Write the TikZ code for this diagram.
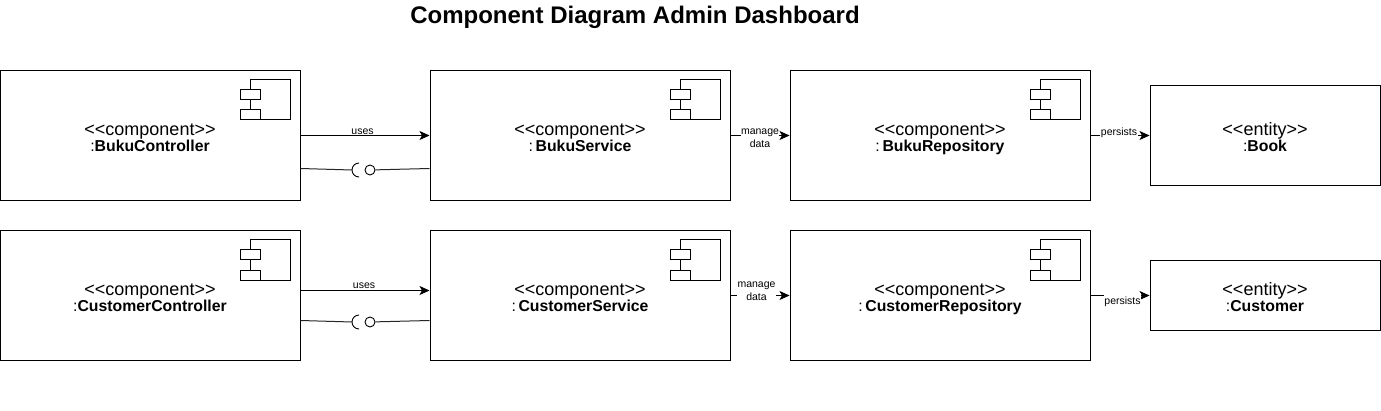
\documentclass[tikz,border=0pt]{standalone}
\usepackage{fontspec}
\setmainfont{Liberation Sans}
\usetikzlibrary{arrows.meta}
\tikzset{
  box/.style={draw, line width=1pt, minimum width=300pt, minimum height=130pt, inner sep=0pt, align=center},
  entity/.style={draw, line width=1pt, minimum width=230pt, inner sep=0pt, align=center},
  lbl/.style={fill=white, inner sep=0.5pt, align=center, font=\fontsize{10.5}{13}\selectfont},
  flow/.style={line width=0.9pt, -{Stealth[length=10pt,width=9pt,inset=2.5pt]}},
  wire/.style={line width=1pt, black!85},
  ball/.style={draw, circle, line width=0.9pt, minimum size=10pt, inner sep=0pt},
  compicon/.pic={
    \draw[line width=1pt] (-50.5,-10) rectangle (-10.5,-50);
    \draw[line width=1pt, fill=white] (-60.5,-20) rectangle (-40.5,-30);
    \draw[line width=1pt, fill=white] (-60.5,-40) rectangle (-40.5,-50);
  },
  socket/.pic={
    \draw[line width=0.9pt] (7,7) arc (90:270:7);
  }
}
\newcommand{\boxtext}[2]{{\fontsize{18}{18}\selectfont\rule{0pt}{19.5pt}<{}<#1>{}>}\\[0.5pt]{\fontsize{15.8}{18}\selectfont\vphantom{gy}#2}}
\begin{document}
\begin{tikzpicture}[x=1pt, y=1pt]
\useasboundingbox (0,0) rectangle (1381,410);
\node[font=\fontsize{24}{28}\selectfont\bfseries] (title) at (635,392.5) {Component Diagram Admin Dashboard};
% top row
\node[box] (bukuctl) at (150,274.5) {\boxtext{component}{:\textbf{BukuController}}};
\node[box] (bukusvc) at (580,274.5) {\boxtext{component}{:\,\textbf{BukuService}}};
\node[box] (bukurepo) at (940,274.5) {\boxtext{component}{:\,\textbf{BukuRepository}}};
\node[entity, minimum height=100pt] (book) at (1265,274.5) {\boxtext{entity}{:\textbf{Book}}};
% bottom row
\node[box] (custctl) at (150,114.5) {\boxtext{component}{:\textbf{CustomerController}}};
\node[box] (custsvc) at (580,114.5) {\boxtext{component}{:\,\textbf{CustomerService}}};
\node[box] (custrepo) at (940,114.5) {\boxtext{component}{:\,\textbf{CustomerRepository}}};
\node[entity, minimum height=70pt] (customer) at (1265,114.5) {\boxtext{entity}{:\textbf{Customer}}};
% icons
\pic at (bukuctl.north east) {compicon};
\pic at (bukusvc.north east) {compicon};
\pic at (bukurepo.north east) {compicon};
\pic at (custctl.north east) {compicon};
\pic at (custsvc.north east) {compicon};
\pic at (custrepo.north east) {compicon};
% arrows
\draw[flow] (bukuctl) -- (bukusvc);
\draw[flow] (bukusvc) -- (bukurepo);
\draw[flow] (bukurepo) -- (book);
\draw[flow] ([yshift=5pt]custctl.east) -- ([yshift=5pt]custsvc.west);
\draw[flow] (custsvc) -- (custrepo);
\draw[flow] (custrepo) -- (customer);
\node[lbl] (uses1) at (362.5,278) {uses};
\node[lbl] (manage1) at (760,272) {manage\\data};
\node[lbl] (persists1) at (1119,277) {persists};
\node[lbl] (uses2) at (364,124) {uses};
\node[lbl] (manage2) at (756.5,119) {manage\\data};
\node[lbl, inner ysep=4pt, inner xsep=0pt] (persists2) at (1122.5,108.5) {persists};
% lollipops
\node[ball] (ball1) at (370,240) {};
\coordinate (sock1) at (352,240);
\pic at (sock1) {socket};
\draw[wire] ([yshift=-33pt]bukuctl.east) -- (sock1);
\draw[wire] (ball1) -- ([yshift=-33pt]bukusvc.west);
\node[ball] (ball2) at (370,88) {};
\coordinate (sock2) at (352,88);
\pic at (sock2) {socket};
\draw[wire] ([yshift=-25pt]custctl.east) -- (sock2);
\draw[wire] (ball2) -- ([yshift=-25pt]custsvc.west);
\end{tikzpicture}
\end{document}
